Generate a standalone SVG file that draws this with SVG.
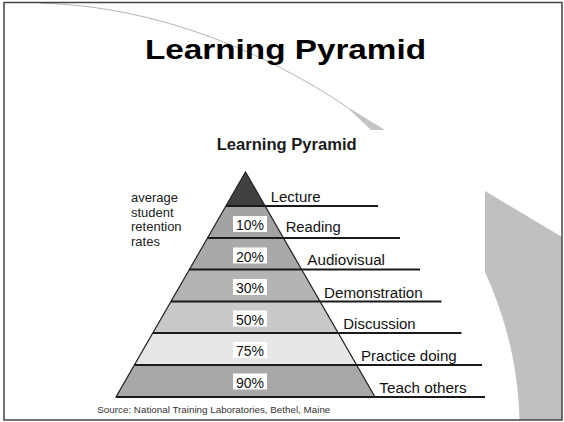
<svg xmlns="http://www.w3.org/2000/svg" width="564" height="422" viewBox="0 0 564 422">
<style>
text{font-family:"Liberation Sans",Arial,sans-serif;fill:#111}
.title{font-size:28px;font-weight:bold;fill:#000}
.sub{font-size:16px;font-weight:bold;fill:#1a1a1a}
.lbl{font-size:14px}
.pct{font-size:14px;text-anchor:middle}
.side{font-size:13px;fill:#222}
.src{font-size:9px;fill:#333}
.box{fill:#fff}
.edge{stroke:#1a1a1a;stroke-width:2;fill:none}
.outline{fill:none;stroke:#222;stroke-width:1.2}
</style>
<rect x="0" y="0" width="564" height="422" fill="#fff"/>
<g id="decor">
<path d="M485,191 L562,237 L562,420 L519.5,420 C518,360 503,312 485,272 Z" fill="#c0c0c0"/>
<path d="M40,3 C160,6 270,55 347,107" fill="none" stroke="#b4b4b4" stroke-width="1"/>
<polygon points="345,105.5 385,130 371,130" fill="#c4c4c4"/>
<rect x="4" y="2.5" width="558" height="417.5" fill="none" stroke="#444" stroke-width="1.5"/>
</g>
<g id="title"><text class="title" x="145" y="58.5" textLength="281" lengthAdjust="spacingAndGlyphs">Learning Pyramid</text></g>
<g id="subtitle"><text class="sub" x="216.7" y="150" textLength="140" lengthAdjust="spacingAndGlyphs">Learning Pyramid</text></g>
<g id="side-note">
<text class="side" x="131" y="202">average</text>
<text class="side" x="131" y="216.5">student</text>
<text class="side" x="131" y="231">retention</text>
<text class="side" x="131" y="245.5">rates</text>
</g>
<g id="lecture">
<polygon points="245.5,172 225.9,206 265.1,206" fill="#404040"/>
<text class="lbl" x="270.7" y="202" textLength="50" lengthAdjust="spacingAndGlyphs">Lecture</text>
</g>
<g id="reading">
<polygon points="225.9,206 265.1,206 283.5,238 207.5,238" fill="#a3a3a3"/>
<rect class="box" x="233" y="216" width="34" height="16"/>
<text class="pct" x="250" y="230">10%</text>
<text class="lbl" x="285.7" y="231.5" textLength="55" lengthAdjust="spacingAndGlyphs">Reading</text>
</g>
<g id="audiovisual">
<polygon points="207.5,238 283.5,238 301.6,269.5 189.4,269.5" fill="#a9a9a9"/>
<rect class="box" x="233" y="247.5" width="34" height="16"/>
<text class="pct" x="250" y="261.5">20%</text>
<text class="lbl" x="307.3" y="265" textLength="77.7" lengthAdjust="spacingAndGlyphs">Audiovisual</text>
</g>
<g id="demonstration">
<polygon points="189.4,269.5 301.6,269.5 320,301.5 171,301.5" fill="#b4b4b4"/>
<rect class="box" x="233" y="279" width="34" height="16"/>
<text class="pct" x="250" y="293">30%</text>
<text class="lbl" x="324" y="297.5" textLength="98.7" lengthAdjust="spacingAndGlyphs">Demonstration</text>
</g>
<g id="discussion">
<polygon points="171,301.5 320,301.5 338.2,333 152.8,333" fill="#c9c9c9"/>
<rect class="box" x="233" y="310.5" width="34" height="16"/>
<text class="pct" x="250" y="324.5">50%</text>
<text class="lbl" x="343.3" y="329.3" textLength="72.4" lengthAdjust="spacingAndGlyphs">Discussion</text>
</g>
<g id="practice-doing">
<polygon points="152.8,333 338.2,333 356.6,365 134.4,365" fill="#e7e7e7"/>
<rect class="box" x="233" y="342" width="34" height="16"/>
<text class="pct" x="250" y="356">75%</text>
<text class="lbl" x="361" y="360.7" textLength="95.7" lengthAdjust="spacingAndGlyphs">Practice doing</text>
</g>
<g id="teach-others">
<polygon points="134.4,365 356.6,365 375,397 116,397" fill="#a8a8a8"/>
<rect class="box" x="233" y="373.5" width="34" height="16"/>
<text class="pct" x="250" y="387.5">90%</text>
<text class="lbl" x="379.3" y="392.7" textLength="87.4" lengthAdjust="spacingAndGlyphs">Teach others</text>
</g>
<g id="connectors">
<polygon class="outline" points="245.5,172 375,397 116,397"/>
<line class="edge" x1="225.9" y1="206" x2="378" y2="206"/>
<line class="edge" x1="207.5" y1="238" x2="400" y2="238"/>
<line class="edge" x1="189.4" y1="269.5" x2="420" y2="269.5"/>
<line class="edge" x1="171" y1="301.5" x2="441.5" y2="301.5"/>
<line class="edge" x1="152.8" y1="333" x2="461.5" y2="333"/>
<line class="edge" x1="134.4" y1="365" x2="482" y2="365"/>
<line class="edge" x1="116" y1="397" x2="485" y2="397"/>
</g>
<g id="source"><text class="src" x="97.3" y="413.3" textLength="233" lengthAdjust="spacingAndGlyphs">Source: National Training Laboratories, Bethel, Maine</text></g>
</svg>
